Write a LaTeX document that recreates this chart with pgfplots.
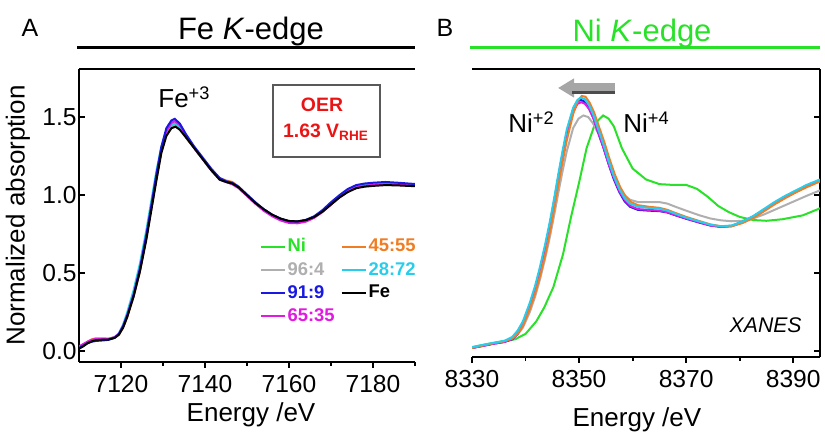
\documentclass[border=0pt]{standalone}
\usepackage{pgfplots}
\pgfplotsset{compat=1.18}
\usepackage{fontspec}
\setmainfont{Liberation Sans}
\usetikzlibrary{arrows.meta}
\definecolor{cNi}{RGB}{40,225,40}
\definecolor{cgray}{RGB}{175,175,175}
\definecolor{cblue}{RGB}{25,25,225}
\definecolor{cmag}{RGB}{225,25,225}
\definecolor{corange}{RGB}{240,125,35}
\definecolor{ccyan}{RGB}{40,205,235}
\definecolor{cred}{RGB}{235,20,20}
\pgfplotsset{
  xas/.style={scale only axis, axis line style={line width=1.2pt},
    /pgf/number format/assume math mode=true,
    /pgf/number format/set thousands separator={},
    tick style={line width=0.9pt, black},
    major tick length=3pt, minor tick length=2pt,
    tick label style={font=\fontsize{12.3}{13}\selectfont},
    every axis plot/.append style={line width=1pt},
    axis x line*=box, xtick pos=left, xtick align=outside,
    ytick={0,0.5,1,1.5}, ytick align=inside,
    ymin=-0.07, ymax=1.81,
  }
}
\begin{document}
\begin{tikzpicture}[x=1pt,y=1pt]
\useasboundingbox (0,0) rectangle (412.5,216);
% ---------------- Panel A
\begin{axis}[xas, at={(39.5pt,35pt)}, anchor=south west, width=168pt, height=146.5pt,
  xmin=7110, xmax=7190, axis y line*=left, ytick pos=left,
  xtick={7120,7140,7160,7180}, minor xtick={7130,7150,7170,7190},
  yticklabel style={/pgf/number format/fixed, /pgf/number format/fixed zerofill, /pgf/number format/precision=1, /tikz/inner sep=1pt},
  xlabel={Energy /eV}, ylabel={Normalized absorption},
  every axis x label/.style={at={(axis description cs:0.512,-0.2048)}, anchor=base, font=\fontsize{13}{14}\selectfont},
  every axis y label/.style={at={(axis description cs:-0.1815,0.5)}, rotate=90, anchor=center, font=\fontsize{13}{14}\selectfont},
  legend columns=2, legend cell align=left,
  legend image code/.code={\draw[#1, line width=1pt] (0pt,0pt) -- (12pt,0pt);},
  legend style={draw=none, fill=none, at={(axis cs:7152.9,0.737)}, anchor=north west,
    font=\bfseries\fontsize{9.2}{10}\selectfont, inner sep=0pt, row sep=1.6pt,
    nodes={inner sep=1pt},
    /tikz/every even column/.append style={column sep=2pt}},
]
\addplot[cgray, forget plot] coordinates {(7110,0.02)(7111,0.035)(7112,0.052)(7113,0.065)(7114,0.072)(7115.5,0.075)(7117,0.076)(7118.5,0.087)(7119.5,0.107)(7120.5,0.155)(7121.5,0.225)(7123,0.355)(7124.5,0.515)(7126,0.72)(7127.2,0.91)(7128.4,1.10)(7129.6,1.28)(7130.8,1.395)(7132,1.44)(7133,1.45)(7134,1.43)(7135.5,1.37)(7137.5,1.30)(7139.5,1.23)(7141.5,1.16)(7143.5,1.10)(7145,1.085)(7146.5,1.075)(7148,1.05)(7150,1.0)(7152,0.95)(7154,0.908)(7156,0.872)(7158,0.847)(7160,0.832)(7162,0.83)(7164,0.838)(7166,0.86)(7168,0.895)(7170,0.942)(7172,0.988)(7174,1.025)(7176,1.05)(7178,1.06)(7180,1.065)(7183,1.068)(7186,1.066)(7190,1.06)};
\addplot[corange, forget plot] coordinates {(7110,0.02)(7111,0.04)(7112,0.06)(7113,0.075)(7114,0.082)(7115.5,0.082)(7117,0.08)(7118.5,0.088)(7119.5,0.105)(7120.5,0.15)(7121.5,0.22)(7123,0.35)(7124.5,0.51)(7126,0.72)(7127.2,0.91)(7128.4,1.10)(7129.6,1.28)(7130.8,1.40)(7132,1.45)(7132.8,1.46)(7134,1.43)(7135.5,1.37)(7137.5,1.30)(7139.5,1.23)(7141.5,1.165)(7143.5,1.11)(7145,1.095)(7146.5,1.085)(7148,1.055)(7150,1.0)(7152,0.95)(7154,0.905)(7156,0.87)(7158,0.845)(7160,0.83)(7162,0.83)(7164,0.838)(7166,0.86)(7168,0.897)(7170,0.943)(7172,0.99)(7174,1.027)(7176,1.05)(7178,1.06)(7180,1.065)(7183,1.068)(7186,1.066)(7190,1.06)};
\addplot[ccyan, forget plot] coordinates {(7110,0.02)(7111,0.035)(7112,0.052)(7113,0.063)(7114,0.07)(7115.5,0.072)(7117,0.075)(7118.5,0.09)(7119.5,0.115)(7120.5,0.17)(7121.5,0.25)(7123,0.39)(7124.5,0.56)(7126,0.77)(7127.2,0.96)(7128.4,1.15)(7129.6,1.31)(7130.8,1.41)(7132,1.455)(7132.8,1.46)(7134,1.435)(7135.5,1.375)(7137.5,1.30)(7139.5,1.23)(7141.5,1.16)(7143.5,1.105)(7145,1.088)(7146.5,1.077)(7148,1.05)(7150,1.0)(7152,0.95)(7154,0.905)(7156,0.87)(7158,0.845)(7160,0.83)(7162,0.829)(7164,0.838)(7166,0.862)(7168,0.9)(7170,0.947)(7172,0.993)(7174,1.03)(7176,1.055)(7178,1.065)(7180,1.07)(7183,1.073)(7186,1.07)(7190,1.064)};
\addplot[cmag, forget plot] coordinates {(7110,0.03)(7111,0.045)(7112,0.06)(7113,0.072)(7114,0.078)(7115.5,0.078)(7117,0.078)(7118.5,0.09)(7119.5,0.11)(7120.5,0.16)(7121.5,0.23)(7123,0.36)(7124.5,0.52)(7126,0.73)(7127.2,0.92)(7128.4,1.11)(7129.6,1.29)(7130.8,1.41)(7132,1.465)(7132.8,1.475)(7134,1.45)(7135.5,1.38)(7137.5,1.30)(7139.5,1.23)(7141.5,1.16)(7143.5,1.10)(7145,1.085)(7146.5,1.07)(7148,1.045)(7150,0.995)(7152,0.945)(7154,0.9)(7156,0.865)(7158,0.838)(7160,0.822)(7162,0.82)(7164,0.83)(7166,0.855)(7168,0.893)(7170,0.94)(7172,0.985)(7174,1.025)(7176,1.05)(7178,1.06)(7180,1.066)(7183,1.07)(7186,1.068)(7190,1.062)};
\addplot[cblue, forget plot] coordinates {(7110,0.02)(7111,0.035)(7112,0.05)(7113,0.06)(7114,0.065)(7115.5,0.068)(7117,0.072)(7118.5,0.085)(7119.5,0.11)(7120.5,0.16)(7121.5,0.23)(7123,0.36)(7124.5,0.53)(7126,0.74)(7127.2,0.93)(7128.4,1.13)(7129.6,1.31)(7130.8,1.43)(7132,1.48)(7132.8,1.49)(7134,1.46)(7135.5,1.39)(7137.5,1.31)(7139.5,1.24)(7141.5,1.17)(7143.5,1.11)(7145,1.09)(7146.5,1.08)(7148,1.055)(7150,1.005)(7152,0.955)(7154,0.91)(7156,0.875)(7158,0.85)(7160,0.833)(7162,0.832)(7164,0.842)(7166,0.865)(7168,0.905)(7170,0.955)(7172,1.0)(7174,1.04)(7176,1.065)(7178,1.075)(7180,1.08)(7183,1.085)(7186,1.08)(7190,1.072)};
\addplot[black, forget plot] coordinates {(7110,0.015)(7111,0.03)(7112,0.05)(7113,0.062)(7114,0.07)(7115.5,0.073)(7117,0.074)(7118.5,0.085)(7119.5,0.105)(7120.5,0.15)(7121.5,0.22)(7123,0.35)(7124.5,0.51)(7126,0.71)(7127.2,0.9)(7128.4,1.09)(7129.6,1.27)(7130.8,1.38)(7132,1.43)(7133,1.44)(7134,1.42)(7135.5,1.37)(7137.5,1.3)(7139.5,1.23)(7141.5,1.16)(7143.5,1.1)(7145,1.085)(7146.5,1.075)(7148,1.05)(7150,1.0)(7152,0.95)(7154,0.91)(7156,0.875)(7158,0.85)(7160,0.835)(7162,0.832)(7164,0.84)(7166,0.86)(7168,0.895)(7170,0.94)(7172,0.985)(7174,1.02)(7176,1.045)(7178,1.055)(7180,1.06)(7183,1.065)(7186,1.063)(7190,1.058)};
\addlegendimage{cNi}\addlegendentry{\textcolor{cNi}{Ni}}
\addlegendimage{corange}\addlegendentry{\textcolor{corange}{45:55}}
\addlegendimage{cgray}\addlegendentry{\textcolor{cgray}{96:4}}
\addlegendimage{ccyan}\addlegendentry{\textcolor{ccyan}{28:72}}
\addlegendimage{cblue}\addlegendentry{\textcolor{cblue}{91:9}}
\addlegendimage{black}\addlegendentry{Fe}
\addlegendimage{cmag}\addlegendentry{\textcolor{cmag}{65:35}}
\end{axis}
% ---------------- Panel B
\begin{axis}[xas, at={(236pt,37.5pt)}, anchor=south west, width=174pt, height=144pt,
  xmin=8330, xmax=8395, ymin=-0.038, ymax=1.808, axis y line*=right, ytick pos=right,
  yticklabels={},
  xtick={8330,8350,8370,8390}, minor xtick={8340,8360,8380},
  xlabel={Energy /eV},
  every axis x label/.style={at={(axis description cs:0.474,-0.243)}, anchor=base, font=\fontsize{13}{14}\selectfont},
]
\addplot[cNi] coordinates {(8330,0.025)(8333,0.045)(8336,0.065)(8338,0.075)(8340,0.11)(8342,0.19)(8343.5,0.28)(8345.2,0.41)(8347,0.62)(8348.5,0.86)(8350,1.08)(8351.4,1.3)(8353,1.46)(8354.5,1.51)(8355.5,1.49)(8356.5,1.44)(8358,1.3)(8360,1.17)(8362.5,1.1)(8365,1.07)(8367.5,1.065)(8370,1.065)(8372,1.04)(8374,0.99)(8376,0.93)(8378,0.89)(8380,0.86)(8382.5,0.84)(8385,0.835)(8388,0.845)(8391.8,0.87)(8395,0.915)};
\addplot[cgray] coordinates {(8330,0.02)(8332,0.035)(8334,0.05)(8336,0.062)(8337.5,0.08)(8338.5,0.105)(8339.5,0.15)(8340.8,0.25)(8341.8,0.35)(8342.7,0.46)(8343.7,0.6)(8344.6,0.74)(8345.4,0.88)(8346.1,1.01)(8346.9,1.15)(8347.7,1.28)(8348.9,1.43)(8349.9,1.49)(8350.8,1.51)(8351.7,1.5)(8352.6,1.46)(8353.5,1.4)(8354.5,1.31)(8355.5,1.21)(8356.5,1.12)(8357.5,1.05)(8358.5,1.0)(8359.5,0.97)(8361,0.955)(8363,0.955)(8365,0.955)(8366.5,0.945)(8368,0.925)(8370,0.9)(8372.5,0.87)(8374.5,0.85)(8376.5,0.838)(8378.5,0.832)(8380.5,0.835)(8382.5,0.85)(8384.5,0.875)(8386.5,0.905)(8388.5,0.935)(8390.5,0.965)(8392.5,0.995)(8395,1.03)};
\addplot[cblue] coordinates {(8330,0.02)(8332,0.033)(8334,0.047)(8336,0.058)(8337.5,0.075)(8338.5,0.11)(8339.5,0.17)(8340.8,0.29)(8341.8,0.4)(8342.7,0.52)(8343.7,0.67)(8344.6,0.82)(8345.4,0.97)(8346.1,1.11)(8346.9,1.26)(8347.7,1.4)(8348.9,1.55)(8349.7,1.6)(8350.3,1.61)(8351,1.6)(8351.8,1.56)(8352.6,1.5)(8353.5,1.41)(8354.5,1.31)(8355.5,1.2)(8356.5,1.1)(8357.5,1.02)(8358.5,0.96)(8359.5,0.925)(8361,0.905)(8363,0.9)(8365,0.897)(8366.5,0.888)(8368,0.87)(8370,0.848)(8372.5,0.823)(8374.5,0.805)(8376.5,0.797)(8378.5,0.803)(8380.5,0.828)(8382.5,0.862)(8384.5,0.905)(8386.5,0.95)(8388.5,0.99)(8390.5,1.025)(8392.5,1.06)(8395,1.095)};
\addplot[cmag] coordinates {(8330,0.02)(8332,0.033)(8334,0.047)(8336,0.058)(8337.5,0.077)(8338.5,0.11)(8339.5,0.17)(8340.8,0.29)(8341.8,0.4)(8342.7,0.52)(8343.7,0.67)(8344.6,0.82)(8345.4,0.97)(8346.1,1.11)(8346.9,1.26)(8347.7,1.39)(8348.9,1.53)(8349.7,1.585)(8350.4,1.595)(8351.1,1.585)(8351.9,1.55)(8352.7,1.49)(8353.6,1.4)(8354.6,1.3)(8355.6,1.19)(8356.6,1.1)(8357.6,1.02)(8358.6,0.965)(8359.6,0.93)(8361,0.91)(8363,0.905)(8365,0.9)(8366.5,0.89)(8368,0.872)(8370,0.85)(8372.5,0.825)(8374.5,0.805)(8376.5,0.795)(8378.5,0.8)(8380.5,0.825)(8382.5,0.858)(8384.5,0.9)(8386.5,0.945)(8388.5,0.985)(8390.5,1.02)(8392.5,1.055)(8395,1.09)};
\addplot[corange] coordinates {(8330,0.02)(8332,0.035)(8334,0.05)(8336,0.062)(8337.5,0.08)(8338.5,0.11)(8339.5,0.16)(8340.8,0.27)(8341.8,0.37)(8342.7,0.48)(8343.7,0.62)(8344.6,0.77)(8345.4,0.92)(8346.1,1.06)(8346.9,1.21)(8347.7,1.35)(8348.9,1.52)(8349.7,1.6)(8350.5,1.635)(8351.2,1.63)(8352,1.59)(8352.8,1.53)(8353.7,1.44)(8354.7,1.34)(8355.7,1.23)(8356.7,1.13)(8357.7,1.05)(8358.7,0.99)(8359.7,0.955)(8361,0.935)(8363,0.925)(8365,0.918)(8366.5,0.905)(8368,0.885)(8370,0.86)(8372.5,0.833)(8374.5,0.812)(8376.5,0.8)(8378.5,0.8)(8380.5,0.82)(8382.5,0.852)(8384.5,0.895)(8386.5,0.94)(8388.5,0.98)(8390.5,1.017)(8392.5,1.05)(8395,1.087)};
\addplot[ccyan] coordinates {(8330,0.025)(8332,0.04)(8334,0.053)(8336,0.065)(8337.5,0.09)(8338.5,0.13)(8339.5,0.19)(8340.8,0.31)(8341.8,0.42)(8342.7,0.54)(8343.7,0.69)(8344.6,0.84)(8345.4,0.99)(8346.1,1.13)(8346.9,1.28)(8347.7,1.42)(8348.9,1.56)(8349.7,1.61)(8350.3,1.625)(8351,1.615)(8351.8,1.58)(8352.6,1.52)(8353.5,1.43)(8354.5,1.33)(8355.5,1.22)(8356.5,1.12)(8357.5,1.04)(8358.5,0.98)(8359.5,0.945)(8361,0.925)(8363,0.918)(8365,0.912)(8366.5,0.9)(8368,0.88)(8370,0.855)(8372.5,0.83)(8374.5,0.81)(8376.5,0.8)(8378.5,0.805)(8380.5,0.83)(8382.5,0.865)(8384.5,0.91)(8386.5,0.955)(8388.5,0.995)(8390.5,1.03)(8392.5,1.065)(8395,1.1)};
\end{axis}
% ---------------- annotations
\node[anchor=base, font=\fontsize{12.5}{13}\selectfont] at (15,197.6) {A};
\node[anchor=base, font=\fontsize{12.5}{13}\selectfont] at (222.5,197.6) {B};
\node[anchor=base, font=\fontsize{15.5}{17}\selectfont] at (125.5,196) {Fe \textit{K}-edge};
\node[anchor=base, font=\fontsize{15.5}{17}\selectfont, text=cNi] at (321,195) {Ni \textit{K}-edge};
\draw[line width=1.1pt] (38.5,192.25) -- (207.5,192.25);
\draw[line width=1.1pt, cNi] (235,192.25) -- (410,192.25);
\node[anchor=base west, font=\fontsize{13}{14}\selectfont, inner sep=0pt] at (79,162) {Fe\textsuperscript{+3}};
\draw[line width=0.8pt, black!65] (136.5,137.5) rectangle (190,173.5);
\node[font=\bfseries\fontsize{9.7}{11}\selectfont, text=cred] at (161,163.5) {OER};
\node[font=\bfseries\fontsize{9.7}{11}\selectfont, text=cred] at (163,150) {1.63 V\textsubscript{RHE}};
\node[anchor=base west, font=\fontsize{13}{14}\selectfont, inner sep=0pt] at (254,149.5) {Ni\textsuperscript{+2}};
\node[anchor=base west, font=\fontsize{13}{14}\selectfont, inner sep=0pt] at (311.5,149.5) {Ni\textsuperscript{+4}};
\node[anchor=base east, font=\itshape\fontsize{10.6}{12}\selectfont, inner sep=0pt] at (401,49.5) {XANES};
\draw[line width=5pt, black!35, -{Triangle[length=8pt, width=9pt]}] (307.5,172) -- (279,172);
\draw[line width=1.2pt, black!70] (307.5,169.8) -- (286,169.8);
\end{tikzpicture}
\end{document}
